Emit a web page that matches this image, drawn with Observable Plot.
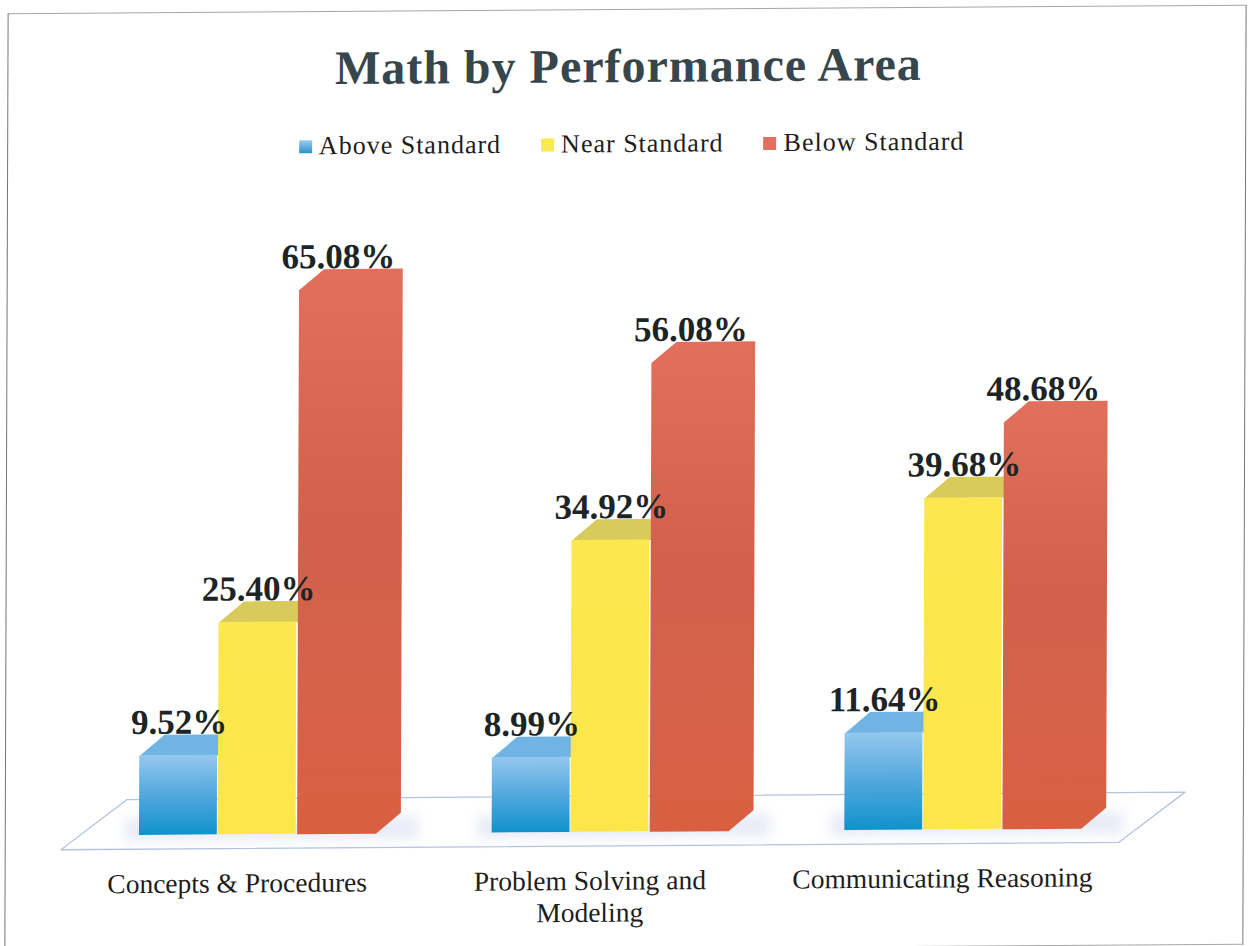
<!DOCTYPE html>
<html>
<head>
<meta charset="utf-8">
<script src="https://cdn.jsdelivr.net/npm/d3@7"></script>
<script src="https://cdn.jsdelivr.net/npm/@observablehq/plot@0.6"></script>
<style>
  html, body { margin: 0; padding: 0; background: #fff; width: 1250px; height: 946px; overflow: hidden; }
  #page { position: relative; width: 1250px; height: 946px; transform: matrix(1, -0.007, -0.0035, 1, 0, 0); transform-origin: 625px 473px; font-family: "Liberation Serif", serif; }
  #frame { position: absolute; left: 6px; top: 9px; width: 1239px; height: 940px; border: 1px solid #a6a6a6; border-left: 1.5px solid #777; border-right: 1.5px solid #777; box-sizing: border-box; }
  #title { position: absolute; left: 2px; width: 1250px; top: 36px; text-align: center; font-size: 48px; font-weight: bold; color: #36464c; line-height: 60px; letter-spacing: 1px; }
  #legend { position: absolute; left: 0; width: 1250px; top: 128px; display: flex; justify-content: center; gap: 40px; font-size: 26px; line-height: 32px; color: #1d1d1d; letter-spacing: 1px; padding-left: 11px; box-sizing: border-box; }
  #legend span.item { display: flex; align-items: center; gap: 7px; }
  #legend i { display: block; width: 13px; height: 13px; }
  #chart { position: absolute; left: 0; top: 190px; }
  #chart svg { overflow: visible; background: transparent; }
</style>
</head>
<body>
<div id="page">
  <div id="frame"></div>
  <div id="title"></div>
  <div id="legend"></div>
  <div id="chart"></div>
</div>
<script>
const titleText = "Math by Performance Area";
const categories = ["Concepts & Procedures", "Problem Solving and\nModeling", "Communicating Reasoning"];
const seriesNames = ["Above Standard", "Near Standard", "Below Standard"];
const aboveStandard = [9.52, 8.99, 11.64];
const nearStandard = [25.40, 34.92, 39.68];
const belowStandard = [65.08, 56.08, 48.68];
const seriesValues = [aboveStandard, nearStandard, belowStandard];
const frontFill = ["url(#gBlue)", "url(#gYellow)"];
const topFill = ["#6fb4e2", "#d8cb5c"];
const swatch = ["linear-gradient(#9ccbec,#2a92cc)", "#f9e84e", "#e2705e"];

// geometry in axis units: one category = 1 on x, percent on y
const barW = 0.2235, barStart = 0.2225, depthX = 0.0705, depthY = 2.5;
const floorFront = -1.65, floorBack = 4.3, floorShift = 0.187;

const bars = [];
categories.forEach((c, i) => seriesNames.forEach((s, j) => {
  const x1 = i + barStart + j * barW;
  bars.push({cat: c, series: j, value: seriesValues[j][i], x1, x2: x1 + barW, xm: x1 + barW / 2, key: i + "-" + j});
}));
const topFaces = bars.filter(b => b.series < 2).flatMap(b => [
  [b.x1, b.value], [b.x1 + depthX, b.value + depthY], [b.x2 + depthX, b.value + depthY], [b.x2, b.value]
].map(([x, y]) => ({x, y, key: b.key, fill: topFill[b.series]})));
// the red bars read as one chamfered solid: front, top and side share one outline
const redSolids = bars.filter(b => b.series === 2).flatMap(b => [
  [b.x1, 0], [b.x2, 0], [b.x2 + depthX, depthY], [b.x2 + depthX, b.value + depthY], [b.x1 + depthX, b.value + depthY], [b.x1, b.value]
].map(([x, y]) => ({x, y, key: b.key})));
const floor = [[0, floorFront], [3, floorFront], [3 + floorShift, floorBack], [floorShift, floorBack], [0, floorFront]].map(([x, y]) => ({x, y}));
const shadows = categories.map((c, i) => ({x1: i + barStart - 0.04, x2: i + barStart + 3 * barW + depthX + 0.05, y1: -0.7, y2: 2}));

function gradient(id, stops) {
  return `<linearGradient id="${id}" gradientUnits="objectBoundingBox" x1="0" y1="0" x2="0" y2="1">` +
    stops.map(([o, c]) => `<stop offset="${o}" stop-color="${c}"/>`).join("") + `</linearGradient>`;
}
const defs = () => {
  const g = document.createElementNS("http://www.w3.org/2000/svg", "defs");
  g.innerHTML =
    gradient("gBlue", [[0, "#94c8ee"], [0.5, "#52a8dd"], [1, "#1092cc"]]) +
    gradient("gYellow", [[0, "#fbe84e"], [1, "#fde64a"]]) +
    gradient("gRed", [[0, "#e0705c"], [0.45, "#d2604b"], [0.75, "#d6624a"], [1, "#d95f40"]]);
  return g;
};

document.getElementById("title").textContent = titleText;
const legend = document.getElementById("legend");
seriesNames.forEach((s, j) => {
  const item = document.createElement("span");
  item.className = "item";
  const sw = document.createElement("i");
  sw.style.background = swatch[j];
  item.append(sw, s);
  legend.append(item);
});

const barMarks = [0, 1].flatMap(j => [
  Plot.line(topFaces.filter(d => d.key.endsWith("-" + j)), {x: "x", y: "y", z: "key", fill: {value: d => d.fill, scale: null}, stroke: null}),
  Plot.rect(bars.filter(b => b.series === j), {x1: "x1", x2: "x2", y1: 0, y2: "value", fill: frontFill[j], insetRight: 1})
]);

const chart = Plot.plot({
  width: 1250,
  height: 746,
  marginTop: 0,
  marginLeft: 0,
  marginRight: 0,
  marginBottom: 69.5,
  style: {background: "transparent", fontFamily: "Liberation Serif, serif"},
  x: {type: "linear", domain: [0, 3], range: [61.75, 1119.75], axis: null},
  y: {type: "linear", domain: [0, 70], range: [641.5, 56.3], axis: null},
  marks: [
    defs,
    Plot.rect(shadows, {x1: "x1", x2: "x2", y1: "y1", y2: "y2", fill: "#c8d0ea", fillOpacity: 0.4, imageFilter: "blur(6px)"}),
    Plot.line(floor, {x: "x", y: "y", stroke: "#b3c4df", strokeWidth: 1.3}),
    ...barMarks,
    Plot.line(redSolids, {x: "x", y: "y", z: "key", fill: "url(#gRed)", stroke: null}),
    Plot.text(bars, {x: "xm", y: d => d.value + depthY, text: d => d.value.toFixed(2) + "%", fontSize: 35, fontWeight: "bold", fill: "#1d2426", lineAnchor: "bottom", dy: -1}),
    Plot.axisX({ticks: categories.map((c, i) => i + 0.5), tickFormat: (d) => categories[Math.floor(d)], tickSize: 0, tickPadding: 0, fontSize: 27.5, lineHeight: 1.16, label: null, anchor: "bottom", textOverflow: null, color: "#1d1d1d"})
  ]
});
document.getElementById("chart").append(chart);
</script>
</body>
</html>
